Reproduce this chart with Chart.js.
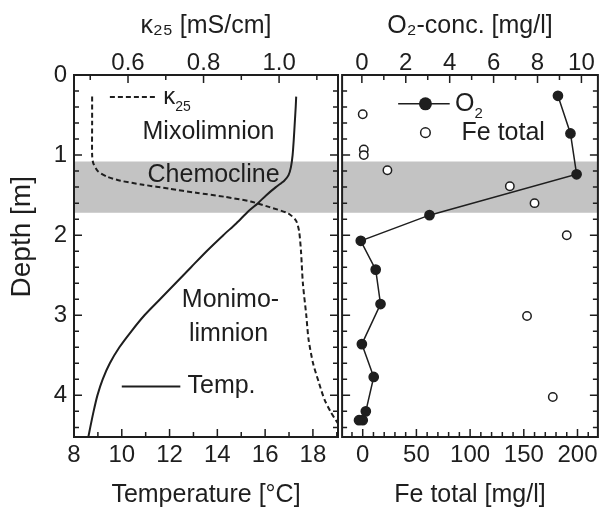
<!DOCTYPE html>
<html>
<head>
<meta charset="utf-8">
<script src="https://cdn.jsdelivr.net/npm/chart.js@4.4.1/dist/chart.umd.min.js"></script>
<style>
  body { margin: 0; background: #fff; }
  #wrap { position: relative; width: 604px; height: 510px; overflow: hidden; }
  canvas { position: absolute; top: 0; }
</style>
</head>
<body>
<div id="wrap">
  <canvas id="left" width="340" height="510" style="left:0"></canvas>
  <canvas id="right" width="268" height="510" style="left:336px"></canvas>
</div>
<script>
// depth axis (both panels)
var depthTicks = [0, 1, 2, 3, 4];
var chemocline = [1.08, 1.72];

// left panel: temperature (bottom axis) and kappa25 (top axis)
var tempTicks = [8, 10, 12, 14, 16, 18];
var kappaTicks = [0.6, 0.8, 1.0];
var tempDepth = [0.27, 0.4, 0.6, 0.8, 1.0, 1.15, 1.25, 1.32, 1.4, 1.5, 1.6, 1.7, 1.85, 2.0, 2.2, 2.4, 2.6, 2.8, 3.0, 3.2, 3.4, 3.6, 3.8, 4.0, 4.2, 4.4, 4.52];
var tempValues = [17.3, 17.28, 17.24, 17.2, 17.15, 17.08, 16.98, 16.8, 16.45, 16.05, 15.7, 15.3, 14.8, 14.25, 13.55, 12.9, 12.25, 11.6, 10.95, 10.4, 9.9, 9.5, 9.2, 8.98, 8.82, 8.68, 8.6];
var kappaDepth = [0.27, 0.6, 1.0, 1.1, 1.2, 1.27, 1.32, 1.37, 1.42, 1.47, 1.52, 1.58, 1.65, 1.73, 1.82, 1.95, 2.2, 2.6, 3.0, 3.3, 3.6, 3.85, 4.05, 4.2, 4.35, 4.45];
var kappaValues = [0.505, 0.505, 0.505, 0.508, 0.52, 0.545, 0.58, 0.64, 0.71, 0.78, 0.855, 0.925, 0.975, 1.025, 1.045, 1.053, 1.058, 1.063, 1.072, 1.078, 1.09, 1.106, 1.12, 1.136, 1.156, 1.175];

// right panel: O2 (top axis) and Fe total (bottom axis)
var o2Ticks = [0, 2, 4, 6, 8, 10];
var feTicks = [0, 50, 100, 150, 200];
var o2Depth = [0.26, 0.73, 1.24, 1.75, 2.07, 2.43, 2.86, 3.36, 3.77, 4.2, 4.31, 4.31];
var o2Values = [8.93, 9.5, 9.78, 3.08, -0.05, 0.63, 0.85, 0.0, 0.54, 0.18, 0.04, -0.13];
var feDepth = [0.49, 0.93, 1.0, 1.19, 1.39, 1.6, 2.0, 3.01, 4.02];
var feValues = [0, 1, 1, 23, 137, 160, 190, 153, 177];

var FONT = "'Liberation Sans', Arial, 'DejaVu Sans', sans-serif";
var INK = '#1e1e1e';

function pts(xs, ys) {
  return ys.map(function (d, i) { return { x: xs[i], y: d }; });
}
function fixTicks(list) {
  return function (scale) { scale.ticks = list.map(function (v) { return { value: v }; }); };
}
function fixSize(prop, size) {
  return function (scale) { scale[prop] = size; };
}
function steps(a, b, s) {
  var out = [];
  for (var v = a; v <= b + 1e-9; v += s) out.push(+v.toFixed(4));
  return out;
}

function tickSet(ctx, scale, a, side, minor, major) {
  ctx.save();
  ctx.strokeStyle = INK;
  ctx.lineWidth = 1.5;
  ctx.beginPath();
  function mark(v, len) {
    var p = scale.getPixelForValue(v);
    if (side === 'bottom') { ctx.moveTo(p, a.bottom); ctx.lineTo(p, a.bottom - len); }
    if (side === 'top') { ctx.moveTo(p, a.top); ctx.lineTo(p, a.top + len); }
    if (side === 'left') { ctx.moveTo(a.left, p); ctx.lineTo(a.left + len, p); }
    if (side === 'right') { ctx.moveTo(a.right, p); ctx.lineTo(a.right - len, p); }
  }
  minor.forEach(function (v) { mark(v, 5); });
  major.forEach(function (v) { mark(v, 8); });
  ctx.stroke();
  ctx.restore();
}

function drawBand(chart) {
  var a = chart.chartArea, y = chart.scales.y;
  var y0 = y.getPixelForValue(chemocline[0]), y1 = y.getPixelForValue(chemocline[1]);
  chart.ctx.save();
  chart.ctx.fillStyle = '#c3c3c3';
  chart.ctx.fillRect(a.left, y0, a.right - a.left, y1 - y0);
  chart.ctx.restore();
}

function drawFrame(ctx, a) {
  ctx.save();
  ctx.strokeStyle = INK;
  ctx.lineWidth = 2;
  ctx.strokeRect(a.left, a.top, a.right - a.left, a.bottom - a.top);
  ctx.restore();
}

function text(ctx, str, x, y, size, align) {
  ctx.font = size + 'px ' + FONT;
  ctx.fillStyle = INK;
  ctx.textAlign = align || 'center';
  ctx.textBaseline = 'middle';
  ctx.fillText(str, x, y);
}
function textSub(ctx, main, sub, x, y, size) {
  text(ctx, main, x, y, size, 'left');
  var w = ctx.measureText(main).width;
  text(ctx, sub, x + w, y + size * 0.42, Math.round(size * 0.6), 'left');
}

var tickFont = { family: FONT, size: 24 };
var titleFont = { family: FONT, size: 25 };

function xAxis(pos, min, max, list, title, fmt) {
  return {
    type: 'linear', position: pos, min: min, max: max,
    afterBuildTicks: fixTicks(list),
    afterFit: fixSize('height', pos === 'top' ? 75 : 73),
    grid: { display: false, drawTicks: false },
    border: { display: false },
    ticks: { font: tickFont, color: INK, padding: pos === 'top' ? -3 : 4, autoSkip: false, maxRotation: 0,
      callback: fmt || function (v) { return v; } },
    title: { display: true, text: title, font: titleFont, color: INK,
      padding: pos === 'top' ? { top: 11, bottom: 0 } : { top: 0, bottom: 0 } }
  };
}

var leftDecor = {
  id: 'leftDecor',
  beforeDatasetsDraw: drawBand,
  afterDatasetsDraw: function (chart) {
    var ctx = chart.ctx, a = chart.chartArea, s = chart.scales;
    drawFrame(ctx, a);
    var depthMinor = steps(0, 4.4, 0.2);
    tickSet(ctx, s.y, a, 'left', depthMinor, depthTicks);
    tickSet(ctx, s.y, a, 'right', depthMinor, depthTicks);
    tickSet(ctx, s.x, a, 'bottom', steps(9, 19, 1), tempTicks);
    tickSet(ctx, s.x2, a, 'top', steps(0.5, 1.1, 0.1), kappaTicks);

    text(ctx, 'Mixolimnion', s.x.getPixelForValue(13.63), s.y.getPixelForValue(0.71), 25);
    text(ctx, 'Chemocline', s.x.getPixelForValue(13.84), s.y.getPixelForValue(1.25), 25);
    text(ctx, 'Monimo-', s.x.getPixelForValue(14.55), s.y.getPixelForValue(2.81), 25);
    text(ctx, 'limnion', s.x.getPixelForValue(14.47), s.y.getPixelForValue(3.23), 25);

    // depth axis title, drawn by hand to sit where the original has it
    ctx.save();
    ctx.translate(22, s.y.getPixelForValue(2.02));
    ctx.rotate(-Math.PI / 2);
    text(ctx, 'Depth [m]', 0, 0, 28);
    ctx.restore();

    // legend: kappa25 (dashed) and Temp. (solid)
    var ky = s.y.getPixelForValue(0.275);
    ctx.save();
    ctx.strokeStyle = INK;
    ctx.lineWidth = 2;
    ctx.setLineDash([5, 3]);
    ctx.beginPath();
    ctx.moveTo(s.x2.getPixelForValue(0.552), ky);
    ctx.lineTo(s.x2.getPixelForValue(0.677), ky);
    ctx.stroke();
    ctx.setLineDash([]);
    var ty = s.y.getPixelForValue(3.89);
    ctx.beginPath();
    ctx.moveTo(s.x.getPixelForValue(10.0), ty);
    ctx.lineTo(s.x.getPixelForValue(12.45), ty);
    ctx.stroke();
    ctx.restore();
    textSub(ctx, 'κ', '25', s.x2.getPixelForValue(0.693), ky, 24);
    text(ctx, 'Temp.', s.x.getPixelForValue(12.75), ty, 25, 'left');
  }
};

var rightDecor = {
  id: 'rightDecor',
  beforeDatasetsDraw: drawBand,
  afterDatasetsDraw: function (chart) {
    var ctx = chart.ctx, a = chart.chartArea, s = chart.scales;
    drawFrame(ctx, a);
    var depthMinor = steps(0, 4.4, 0.2);
    tickSet(ctx, s.y, a, 'left', depthMinor, depthTicks);
    tickSet(ctx, s.y, a, 'right', depthMinor, depthTicks);
    tickSet(ctx, s.x, a, 'bottom', steps(-10, 210, 10), feTicks);
    tickSet(ctx, s.x2, a, 'top', steps(0, 10, 1), o2Ticks);

    // legend: O2 (line + filled dot) and Fe total (open dot)
    var oy = s.y.getPixelForValue(0.36), fy = s.y.getPixelForValue(0.72);
    var cx = s.x.getPixelForValue(58.4);
    ctx.save();
    ctx.strokeStyle = INK;
    ctx.fillStyle = INK;
    ctx.lineWidth = 1.5;
    ctx.beginPath();
    ctx.moveTo(s.x.getPixelForValue(33), oy);
    ctx.lineTo(s.x.getPixelForValue(81), oy);
    ctx.stroke();
    ctx.beginPath();
    ctx.arc(cx, oy, 6.5, 0, Math.PI * 2);
    ctx.fill();
    ctx.beginPath();
    ctx.fillStyle = '#fff';
    ctx.arc(cx, fy, 4.8, 0, Math.PI * 2);
    ctx.fill();
    ctx.stroke();
    ctx.restore();
    textSub(ctx, 'O', '2', s.x.getPixelForValue(86), oy, 25);
    text(ctx, 'Fe total', s.x.getPixelForValue(92), fy, 25, 'left');
  }
};

var noPlugins = { legend: { display: false }, tooltip: { enabled: false } };

new Chart(document.getElementById('left'), {
  type: 'scatter',
  data: {
    datasets: [
      { label: 'Temp.', data: pts(tempValues, tempDepth), xAxisID: 'x', yAxisID: 'y', showLine: true,
        borderColor: INK, borderWidth: 2, pointRadius: 0, tension: 0.25 },
      { label: 'κ25', data: pts(kappaValues, kappaDepth), xAxisID: 'x2', yAxisID: 'y', showLine: true,
        borderColor: INK, borderWidth: 2, borderDash: [5, 3], pointRadius: 0, tension: 0.25 }
    ]
  },
  options: {
    responsive: false, animation: false, events: [],
    layout: { padding: { left: 0, right: 2, top: 0, bottom: 0 } },
    plugins: noPlugins,
    scales: {
      y: {
        type: 'linear', position: 'left', reverse: true, min: 0, max: 4.52,
        afterBuildTicks: fixTicks(depthTicks),
        afterFit: fixSize('width', 74),
        grid: { display: false, drawTicks: false },
        border: { display: false },
        ticks: { font: tickFont, color: INK, padding: 7, autoSkip: false },
        title: { display: false, text: 'Depth [m]' }
      },
      x: xAxis('bottom', 8, 19.05, tempTicks, 'Temperature [°C]'),
      x2: xAxis('top', 0.457, 1.156, kappaTicks, 'κ₂₅ [mS/cm]', function (v) { return v.toFixed(1); })
    }
  },
  plugins: [leftDecor]
});

new Chart(document.getElementById('right'), {
  type: 'scatter',
  data: {
    datasets: [
      { label: 'Fe total', data: pts(feValues, feDepth), xAxisID: 'x', yAxisID: 'y', showLine: false,
        pointRadius: 4.2, pointBackgroundColor: '#fff', pointBorderColor: INK, pointBorderWidth: 1.5 },
      { label: 'O2', data: pts(o2Values, o2Depth), xAxisID: 'x2', yAxisID: 'y', showLine: true,
        borderColor: INK, borderWidth: 1.5, pointRadius: 4.6, pointBackgroundColor: INK, pointBorderColor: INK, tension: 0 }
    ]
  },
  options: {
    responsive: false, animation: false, events: [],
    layout: { padding: { left: 2, right: 5, top: 0, bottom: 0 } },
    plugins: noPlugins,
    scales: {
      y: { type: 'linear', display: false, reverse: true, min: 0, max: 4.52 },
      x: xAxis('bottom', -19.2, 219, feTicks, 'Fe total [mg/l]'),
      x2: xAxis('top', -0.9, 10.75, o2Ticks, 'O₂-conc. [mg/l]')
    }
  },
  plugins: [rightDecor]
});
</script>
</body>
</html>
